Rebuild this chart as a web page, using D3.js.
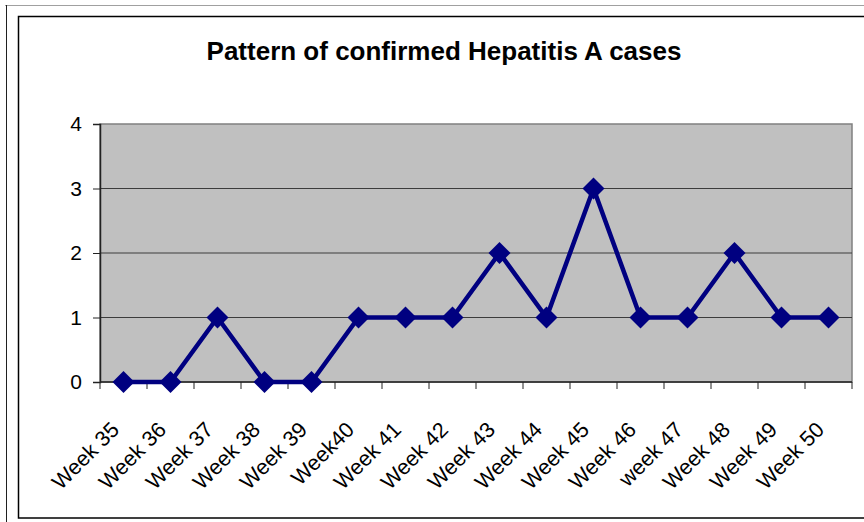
<!DOCTYPE html>
<html>
<head>
<meta charset="utf-8">
<script src="https://cdn.jsdelivr.net/npm/d3@7"></script>
<style>
  body { margin: 0; background: #fff; }
  svg { display: block; font-family: Arial, "Liberation Sans", sans-serif; }
</style>
</head>
<body>
<div id="chart"></div>
<script>
// data
var weeks = ["Week 35", "Week 36", "Week 37", "Week 38", "Week 39", "Week40", "Week 41", "Week 42",
             "Week 43", "Week 44", "Week 45", "Week 46", "week 47", "Week 48", "Week 49", "Week 50"];
var cases = [0, 0, 1, 0, 0, 1, 1, 1, 2, 1, 3, 1, 1, 2, 1, 1];
var yTicks = [0, 1, 2, 3, 4];
var title = "Pattern of confirmed Hepatitis A cases";

var W = 864, H = 522;
var plot = {left: 100, top: 124, right: 852, bottom: 382};

var svg = d3.select("#chart").append("svg")
    .attr("width", W)
    .attr("height", H);

// frames
svg.append("line").attr("x1", 5).attr("x2", W).attr("y1", 5.5).attr("y2", 5.5)
    .attr("stroke", "#a0a0a0").attr("stroke-width", 1);
svg.append("line").attr("x1", 6.5).attr("x2", 6.5).attr("y1", 5).attr("y2", H)
    .attr("stroke", "#202020").attr("stroke-width", 1);
svg.append("rect")
    .attr("x", 18.5).attr("y", 16.5)
    .attr("width", W + 10).attr("height", 518 - 16.5)
    .attr("fill", "none").attr("stroke", "#000").attr("stroke-width", 1.5);

svg.append("text")
    .attr("x", 444).attr("y", 60)
    .attr("text-anchor", "middle")
    .attr("font-size", "26px")
    .attr("font-weight", "bold")
    .text(title);

var x = d3.scaleBand()
    .domain(weeks)
    .range([plot.left, plot.right]);

var y = d3.scaleLinear()
    .domain([0, 4])
    .range([plot.bottom, plot.top]);

// plot area
svg.append("rect")
    .attr("x", plot.left).attr("y", plot.top)
    .attr("width", plot.right - plot.left).attr("height", plot.bottom - plot.top)
    .attr("fill", "#c0c0c0")
    .attr("stroke", "#808080").attr("stroke-width", 1.5);

// gridlines
svg.append("g")
    .selectAll("line")
    .data(yTicks.slice(1, -1))
    .enter().append("line")
        .attr("x1", plot.left).attr("x2", plot.right)
        .attr("y1", function(d) { return y(d); })
        .attr("y2", function(d) { return y(d); })
        .attr("stroke", "#3c3c3c").attr("stroke-width", 1);

// y axis
var yAxis = svg.append("g")
    .attr("transform", "translate(" + plot.left + ",0)")
    .call(d3.axisLeft(y).tickValues(yTicks).tickSize(7).tickPadding(11).tickFormat(d3.format("d")));
yAxis.select(".domain").attr("stroke", "#222").attr("stroke-width", 1.5);
yAxis.selectAll(".tick line").attr("stroke", "#222");
yAxis.selectAll("text").attr("font-size", "21px").attr("fill", "#000")
    .attr("font-family", "Arial, 'Liberation Sans', sans-serif");

// x axis: ticks at category boundaries
var bounds = weeks.map(function(d) { return x(d); }).concat([plot.right]);
var xg = svg.append("g");
xg.append("line")
    .attr("x1", plot.left).attr("x2", plot.right)
    .attr("y1", plot.bottom).attr("y2", plot.bottom)
    .attr("stroke", "#222").attr("stroke-width", 1.5);
xg.selectAll(".tk")
    .data(bounds)
    .enter().append("line")
        .attr("class", "tk")
        .attr("x1", function(d) { return d; }).attr("x2", function(d) { return d; })
        .attr("y1", plot.bottom).attr("y2", plot.bottom + 7)
        .attr("stroke", "#222");
xg.selectAll("text")
    .data(weeks)
    .enter().append("text")
        .attr("text-anchor", "end")
        .attr("font-size", "21.5px")
        .attr("transform", function(d) {
            return "translate(" + (x(d) + x.bandwidth() / 2 - 3) + "," + (plot.bottom + 49) + ") rotate(-45)";
        })
        .text(function(d) { return d; });

// series
var pts = weeks.map(function(w, i) { return {w: w, v: cases[i]}; });
var line = d3.line()
    .x(function(d) { return x(d.w) + x.bandwidth() / 2; })
    .y(function(d) { return y(d.v); });

svg.append("path")
    .datum(pts)
    .attr("d", line)
    .attr("fill", "none")
    .attr("stroke", "#000080")
    .attr("stroke-width", 4.5)
    .attr("stroke-linejoin", "miter");

svg.append("g")
    .selectAll("path")
    .data(pts)
    .enter().append("path")
        .attr("d", "M0,-11L11,0L0,11L-11,0Z")
        .attr("transform", function(d) {
            return "translate(" + (x(d.w) + x.bandwidth() / 2) + "," + y(d.v) + ")";
        })
        .attr("fill", "#000080");
</script>
</body>
</html>
